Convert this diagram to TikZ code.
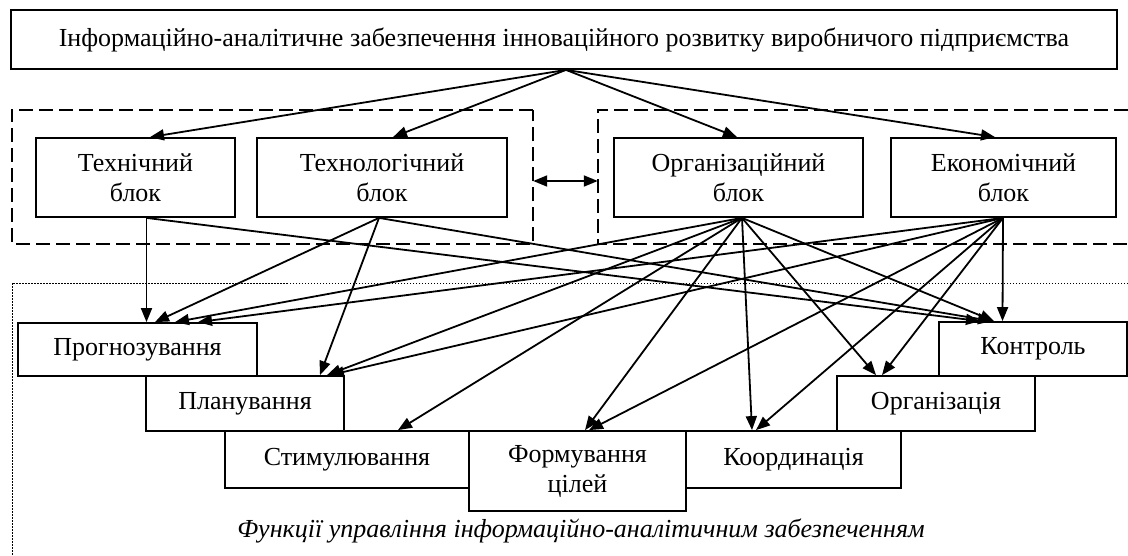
\documentclass[tikz,border=0pt]{standalone}
\usepackage{fontspec}
\setmainfont{Liberation Serif}
\usetikzlibrary{arrows.meta}
\begin{document}
\begin{tikzpicture}[x=1pt,y=-1pt,
  box/.style={draw, line width=1.8pt, fill=white, inner sep=0pt, align=center,
    font=\fontsize{26}{30}\selectfont},
  dashline/.style={line width=1.6pt, dash pattern=on 14pt off 6pt},
  arr/.style={line width=1.8pt, -{Triangle[length=14pt,width=11pt]}},
  dbl/.style={line width=1.8pt, {Triangle[length=14pt,width=11pt]}-{Triangle[length=14pt,width=11pt]}},
  frame/.style={line width=1pt, dash pattern=on 1.5pt off 1.5pt},
  captext/.style={font=\fontsize{26}{30}\selectfont\itshape, inner sep=0pt}
]
\useasboundingbox (0,0) rectangle (1128,555);

% groups
\node[draw=none, inner sep=0pt, minimum width=521pt, minimum height=134pt] (gl) at (272.5,177) {};
\node[draw=none, inner sep=0pt, minimum width=530pt, minimum height=134pt] (gr) at (863,177) {};
\draw[dashline] (gl.north east) -- (gl.north west) -- (gl.south west) -- (gl.south east) -- cycle;
\draw[dashline] (gr.north east) -- (gr.north west) -- (gr.south west) -- (gr.south east);
\draw[frame] (1128,283) -- (12,283) -- (12,555);

% top box
\node[box, minimum width=1106pt, minimum height=59pt] (top) at (564,39.5)
  {Інформаційно-аналітичне забезпечення інноваційного розвитку виробничого підприємства};

% blocks
\node[box, minimum width=199pt, minimum height=79pt] (T1) at (135.5,177.5) {Технічний\\блок};
\node[box, minimum width=250pt, minimum height=79pt] (T2) at (382,177.5) {Технологічний\\блок};
\node[box, minimum width=249pt, minimum height=79pt] (O) at (738.5,177.5) {Організаційний\\блок};
\node[box, minimum width=225pt, minimum height=79pt] (E) at (1003.5,177.5) {Економічний\\блок};

% functions
\node[box, minimum width=239pt, minimum height=53pt] (P) at (137.5,349.5) {Прогнозування};
\node[box, minimum width=198pt, minimum height=55pt] (Pl) at (245,403.5) {Планування};
\node[box, minimum width=244pt, minimum height=57pt] (S) at (347,459.5) {Стимулювання};
\node[box, minimum width=217pt, minimum height=80pt] (F) at (577.5,471) {Формування\\цілей};
\node[box, minimum width=215pt, minimum height=57pt] (K) at (793.5,459.5) {Координація};
\node[box, minimum width=198pt, minimum height=55pt] (Or) at (936,403.5) {Організація};
\node[box, minimum width=188pt, minimum height=54pt] (Kn) at (1033,349) {Контроль};

\node[captext] (caption) at (581,531) {Функції управління інформаційно-аналітичним забезпеченням};

% double arrow between groups
\draw[dbl] ([yshift=-4pt]gl.east) -- ([yshift=-4pt]gr.west);

% top arrows
\coordinate (ta) at ([xshift=2pt]top.south);
\draw[arr] (ta) -- ([xshift=14.5pt]T1.north);
\draw[arr] (ta) -- ([xshift=11pt]T2.north);
\draw[arr] (ta) -- ([xshift=-1.5pt]O.north);
\draw[arr] (ta) -- ([xshift=-8.5pt]E.north);

% source points
\coordinate (T1b) at ([xshift=11pt]T1.south);
\coordinate (T2b) at ([xshift=-3pt]T2.south);
\coordinate (Ob) at ([xshift=3.5pt]O.south);
\coordinate (Eb) at ([xshift=-0.5pt]E.south);

% Технічний
\draw[arr] (T1b) -- ([xshift=9pt]P.north);
\draw[arr] (T1b) -- ([xshift=-53pt]Kn.north);
% Технологічний
\draw[arr] (T2b) -- ([xshift=17.5pt]P.north);
\draw[arr] (T2b) -- ([xshift=75pt]Pl.north);
\draw[arr] (T2b) -- ([xshift=-41pt]Kn.north);
% Організаційний
\draw[arr] (Ob) -- ([xshift=37.5pt]P.north);
\draw[arr] (Ob) -- ([xshift=82pt]Pl.north);
\draw[arr] (Ob) -- ([xshift=51pt]S.north);
\draw[arr] (Ob) -- ([xshift=7.5pt]F.north);
\draw[arr] (Ob) -- ([xshift=-41.5pt]K.north);
\draw[arr] (Ob) -- ([xshift=-60pt]Or.north);
\draw[arr] (Ob) -- ([xshift=-39pt]Kn.north);
% Економічний
\draw[arr] (Eb) -- ([xshift=60.5pt]P.north);
\draw[arr] (Eb) -- ([xshift=85pt]Pl.north);
\draw[arr] (Eb) -- ([xshift=11.5pt]F.north);
\draw[arr] (Eb) -- ([xshift=-37.5pt]K.north);
\draw[arr] (Eb) -- ([xshift=-54pt]Or.north);
\draw[arr] (Eb) -- ([xshift=-30.5pt]Kn.north);
\end{tikzpicture}
\end{document}
